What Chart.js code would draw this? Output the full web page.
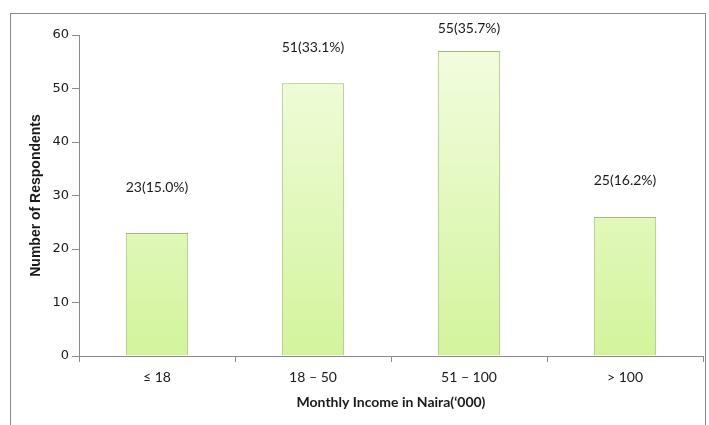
<!DOCTYPE html>
<html>
<head>
<meta charset="utf-8">
<script src="https://cdn.jsdelivr.net/npm/chart.js@4.4.0/dist/chart.umd.min.js"></script>
<style>
  html, body { margin: 0; padding: 0; background: #fff; }
  #wrap { position: relative; width: 709px; height: 425px; }
  #frame { position: absolute; left: 10px; top: 13px; width: 696px; height: 430px; border: 1px solid #8a8a8a; box-sizing: border-box; }
  canvas { position: absolute; left: 0; top: 0; }
</style>
</head>
<body>
<div id="wrap">
  <div id="frame"></div>
  <canvas id="c" width="709" height="425"></canvas>
</div>
<script>
const categories = ['\u2264 18', '18 \u2013 50', '51 \u2013 100', '> 100'];
const barValues = [23, 51, 57, 26];
const barLabels = ['23(15.0%)', '51(33.1%)', '55(35.7%)', '25(16.2%)'];
const yTicks = [0, 10, 20, 30, 40, 50, 60];

const labelOffsets = [45, 36, 23, 36];

const ctx = document.getElementById('c').getContext('2d');

const valueLabelPlugin = {
  id: 'valueLabels',
  afterDatasetsDraw(chart) {
    const meta = chart.getDatasetMeta(0);
    const c = chart.ctx;
    c.save();
    c.font = '14px Lato';
    c.fillStyle = '#1a1a1a';
    c.textAlign = 'center';
    c.textBaseline = 'middle';
    meta.data.forEach((bar, i) => {
      c.fillText(barLabels[i], bar.x, bar.y - labelOffsets[i]);
    });
    c.restore();
  }
};

const gradientFill = (context) => {
  const chart = context.chart;
  const area = chart.chartArea;
  if (!area) return '#e0f7b8';
  const g = chart.ctx.createLinearGradient(0, area.top, 0, area.bottom);
  g.addColorStop(0, '#f3fde2');
  g.addColorStop(1, '#d3f49c');
  return g;
};

new Chart(ctx, {
  type: 'bar',
  data: {
    labels: categories,
    datasets: [{
      data: barValues,
      backgroundColor: gradientFill,
      borderColor: '#a3b87a',
      borderWidth: 1,
      categoryPercentage: 1.0,
      barPercentage: 0.4
    }]
  },
  options: {
    responsive: false,
    animation: false,
    layout: { padding: { left: 10, right: 6, top: 35, bottom: 0 } },
    plugins: { legend: { display: false }, tooltip: { enabled: false } },
    scales: {
      x: {
        offset: true,
        grid: { offset: true, drawOnChartArea: false, drawTicks: true, tickLength: 6, color: '#8a8a8a' },
        border: { color: '#8a8a8a' },
        ticks: { font: { family: 'Lato', size: 14 }, color: '#1a1a1a', padding: 7, maxRotation: 0 },
        title: { display: true, text: "Monthly Income in Naira(\u2018000)", font: { family: 'Lato', size: 14, weight: 'bold' }, color: '#1a1a1a', padding: { top: 0, bottom: 14 } },
        afterFit(scale) { scale.height = 69; }
      },
      y: {
        min: 0, max: 60,
        afterBuildTicks(scale) { scale.ticks = yTicks.map(v => ({ value: v })); },
        grid: { drawOnChartArea: false, drawTicks: true, tickLength: 7, color: '#8a8a8a' },
        border: { color: '#8a8a8a' },
        ticks: { font: { family: 'DejaVu Sans', size: 13 }, color: '#1a1a1a', padding: 3 },
        title: { display: true, text: 'Number of Respondents', font: { family: 'Liberation Sans', size: 14, weight: 'bold' }, color: '#1a1a1a', padding: { top: 18, bottom: 0 } },
        afterFit(scale) { scale.width = 69; }
      }
    }
  },
  plugins: [valueLabelPlugin]
});
</script>
</body>
</html>
